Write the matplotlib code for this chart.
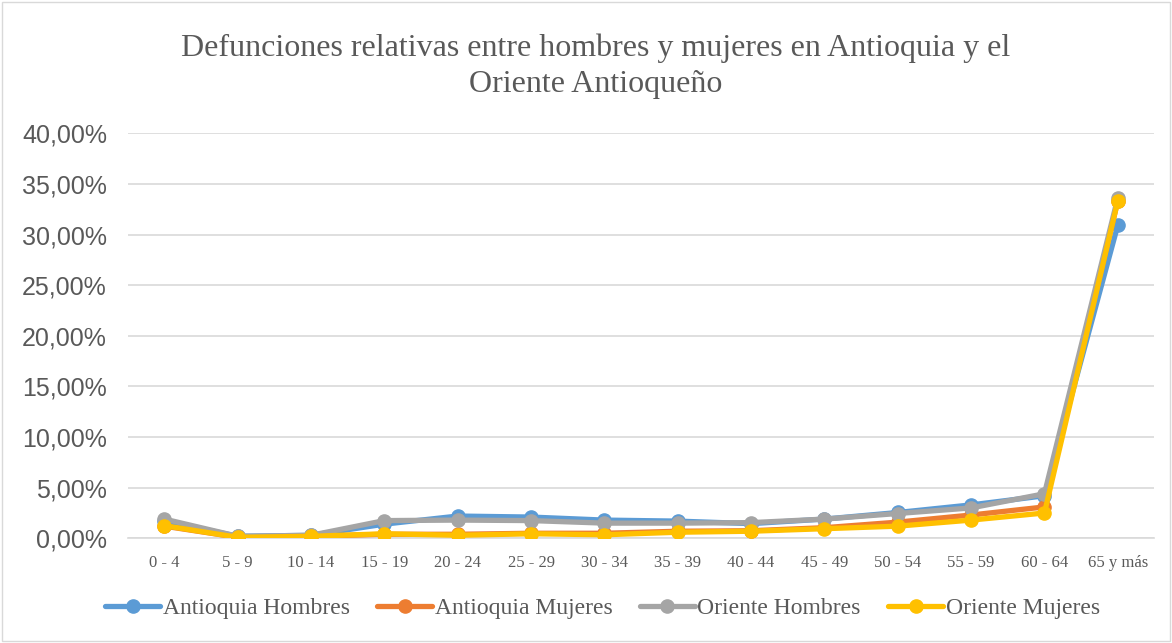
import matplotlib.pyplot as plt
import matplotlib.patches as mpatches
import numpy as np
from matplotlib.ticker import FuncFormatter

CATEGORIES = ["0 - 4", "5 - 9", "10 - 14", "15 - 19", "20 - 24", "25 - 29", "30 - 34",
              "35 - 39", "40 - 44", "45 - 49", "50 - 54", "55 - 59", "60 - 64", "65 y más"]

ANT_HOMBRES = [1.7, 0.2, 0.3, 1.4, 2.2, 2.1, 1.8, 1.7, 1.45, 1.9, 2.55, 3.3, 4.2, 30.9]
ANT_MUJERES = [1.2, 0.1, 0.2, 0.4, 0.4, 0.5, 0.5, 0.7, 0.75, 1.05, 1.6, 2.3, 3.1, 33.3]
ORI_HOMBRES = [1.9, 0.2, 0.3, 1.75, 1.8, 1.75, 1.5, 1.5, 1.55, 1.9, 2.45, 3.0, 4.4, 33.6]
ORI_MUJERES = [1.25, 0.1, 0.2, 0.45, 0.3, 0.45, 0.35, 0.6, 0.7, 0.95, 1.2, 1.8, 2.5, 33.3]

SERIES = [
    ("Antioquia Hombres", ANT_HOMBRES, "#5B9BD5"),
    ("Antioquia Mujeres", ANT_MUJERES, "#ED7D31"),
    ("Oriente Hombres", ORI_HOMBRES, "#A5A5A5"),
    ("Oriente Mujeres", ORI_MUJERES, "#FFC000"),
]

SERIF = "Liberation Serif"
SANS = "Liberation Sans"

fig = plt.figure(figsize=(11.72, 6.43), dpi=100)
ax = fig.add_axes([0.109, 0.1628, 0.876, 0.630])

x = np.arange(len(CATEGORIES))
for label, vals, color in SERIES:
    ax.plot(x, vals, color=color, lw=3.8, marker="o", markersize=9.5,
            label=label, solid_capstyle="round", zorder=3)

ax.set_xlim(-0.5, len(CATEGORIES) - 0.5)
ax.set_ylim(0, 40)
ax.set_yticks(np.arange(0, 41, 5))
ax.yaxis.set_major_formatter(FuncFormatter(lambda v, p: f"{v:.2f}%".replace(".", ",")))
ax.set_xticks(x)
ax.set_xticklabels(CATEGORIES, fontfamily=SERIF, fontsize=12, color="#595959")
for t in ax.get_yticklabels():
    t.set_fontfamily(SANS)
    t.set_fontsize(18)
    t.set_color("#595959")

ax.grid(axis="y", color="#D9D9D9", lw=1.2, zorder=0)
ax.set_axisbelow(True)
for s in ["top", "right", "left"]:
    ax.spines[s].set_visible(False)
ax.spines["bottom"].set_color("#D9D9D9")
ax.spines["bottom"].set_linewidth(1.2)
ax.tick_params(axis="y", length=0, pad=15)
ax.tick_params(axis="x", length=0, pad=12)

fig.text(0.508, 0.897, "Defunciones relativas entre hombres y mujeres en Antioquia y el\nOriente Antioqueño",
         ha="center", va="center", fontfamily=SERIF, fontsize=23, color="#595959",
         linespacing=1.29)

leg = fig.legend(loc="center", bbox_to_anchor=(0.514, 0.054), ncol=4, frameon=False,
                 prop={"family": SERIF, "size": 17}, handlelength=2.35,
                 columnspacing=1.15, handletextpad=0.1)
for t in leg.get_texts():
    t.set_color("#595959")

fig.patches.append(mpatches.Rectangle((0.002, 0.003), 0.996, 0.994, transform=fig.transFigure,
                                      fill=False, edgecolor="#D9D9D9", lw=1))

fig.savefig("out.png", dpi=100)
